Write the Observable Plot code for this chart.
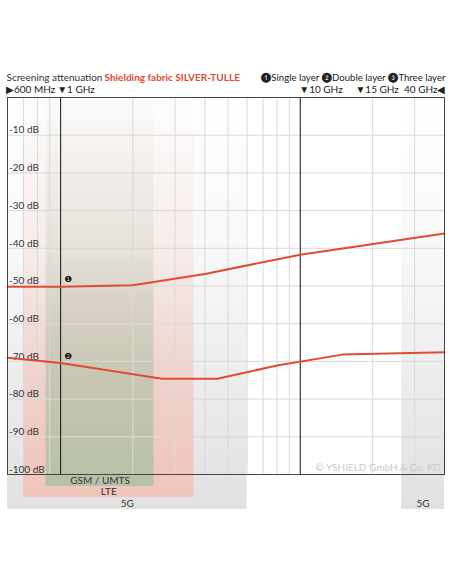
<!DOCTYPE html>
<html>
<head>
<meta charset="utf-8">
<script src="https://cdn.jsdelivr.net/npm/d3@7"></script>
<script src="https://cdn.jsdelivr.net/npm/@observablehq/plot@0.6"></script>
<style>
  html, body { margin: 0; padding: 0; background: #fff; }
  svg { display: block; }
</style>
</head>
<body>
<div id="chart"></div>
<script>
// ---- data ----
const singleFreq = [0.6e9, 1e9, 2e9, 4e9, 10e9, 40e9];
const singleDb   = [-50.2, -50.2, -49.8, -46.8, -41.7, -36.1];
const doubleFreq = [0.6e9, 1e9, 2.65e9, 4.5e9, 8e9, 15e9, 40e9];
const doubleDb   = [-69.0, -70.4, -74.6, -74.6, -71.1, -68.2, -67.6];

const gridFreqs  = [0.7e9, 0.8e9, 0.9e9, 2e9, 3e9, 4e9, 5e9, 6e9, 7e9, 8e9, 9e9, 20e9, 30e9];
const majorFreqs = [1e9, 10e9];
const gridDb     = [-10, -20, -30, -40, -50, -60, -70, -80, -90];
const yTickDb    = [-10, -20, -30, -40, -50, -60, -70, -80, -90, -100];

const bandNames = ["5G", "5G", "LTE", "GSM / UMTS"];
const bandFrom  = [0.6e9, 26.5e9, 0.7e9, 0.87e9];
const bandTo    = [6e9, 40e9, 3.6e9, 2.45e9];

const freqLabels   = ["▶600 MHz", "▼1 GHz", "▼10 GHz", "▼15 GHz", "40 GHz◀"];
const freqLabelPos = [0.6e9, 1e9, 10e9, 15e9, 40e9];

const titleText  = "Screening attenuation ";
const titleBold  = "Shielding fabric SILVER-TULLE";
const legendText = "❶Single layer ❷Double layer ❸Three layer";
const copyright  = "© YSHIELD GmbH & Co. KG";
const markerText = ["❶", "❷"];

// ---- tables ----
const single = singleFreq.map((f, i) => ({f, db: singleDb[i]}));
const dbl = doubleFreq.map((f, i) => ({f, db: doubleDb[i]}));
const bands = bandNames.map((name, i) => ({name, f1: bandFrom[i], f2: bandTo[i]}));
const markers = markerText.map((t, i) => ({t, f: 1e9, db: i === 0 ? single[1].db : dbl[1].db}));

// styles per band (index-aligned)
const bandStyle = [
  {id: "gGray", ext: 35},
  {id: "gGray", ext: 35},
  {id: "gPink", ext: 23},
  {id: "gGreen", ext: 12}
];
const gradColors = [["gGray", "#e1e1e1"], ["gPink", "#f1c5bc"], ["gGreen", "#b6c1a8"]];

const RED = "#e14b34";
const FONT = "Lato, 'Open Sans', sans-serif";

const marks = [];
// bands
bands.forEach((b, i) => {
  const s = bandStyle[i];
  marks.push(Plot.rect([b], {
    x1: "f1", x2: "f2", y1: () => -100, y2: () => 0,
    fill: `url(#${s.id})`, insetBottom: -s.ext
  }));
  marks.push(Plot.text([b], {
    x: d => Math.sqrt(d.f1 * d.f2), y: () => -100, text: "name", lineAnchor: "middle",
    dy: s.ext - 5.5, fill: "#333", fontSize: 10, fontFamily: FONT
  }));
});
// grid
marks.push(Plot.ruleX(gridFreqs, {x: d => d, stroke: "#d9d9d9", strokeWidth: 1}));
marks.push(Plot.ruleY(gridDb, {y: d => d, stroke: "#d9d9d9", strokeWidth: 1}));
marks.push(Plot.ruleX(majorFreqs, {x: d => d, stroke: "#111", strokeWidth: 1}));
// y labels
marks.push(Plot.text(yTickDb, {
  x: () => 0.6e9, y: d => d, text: d => `${d} dB`, textAnchor: "start", lineAnchor: "middle",
  dx: 1.5, dy: -5, fill: "#333", fontSize: 10, fontFamily: FONT
}));
// copyright
marks.push(Plot.text([copyright], {
  frameAnchor: "bottom-right", text: d => d, lineAnchor: "middle", dx: -4, dy: -7,
  fill: "#c8c8c8", fontSize: 10, fontFamily: FONT
}));
// lines
marks.push(Plot.line(single, {x: "f", y: "db", stroke: RED, strokeWidth: 2}));
marks.push(Plot.line(dbl, {x: "f", y: "db", stroke: RED, strokeWidth: 2}));
// markers
marks.push(Plot.text(markers, {
  x: "f", y: "db", text: "t", lineAnchor: "middle",
  dx: 7.5, dy: -7, fill: "#111", fontSize: 8.5, fontFamily: "DejaVu Sans"
}));
// frame
marks.push(Plot.frame({stroke: "#444", strokeWidth: 1}));
// header row 1
marks.push(Plot.text([titleText], {
  frameAnchor: "top-left", text: d => d, textAnchor: "start", lineAnchor: "middle", dy: -20, dx: -1,
  fill: "#333", fontSize: 10, fontFamily: FONT
}));
marks.push(Plot.text([titleBold], {
  frameAnchor: "top-left", text: d => d, textAnchor: "start", lineAnchor: "middle", dy: -20, dx: 97,
  fill: RED, fontSize: 10, fontWeight: "bold", fontFamily: FONT
}));
marks.push(Plot.text([legendText], {
  frameAnchor: "top-right", text: d => d, textAnchor: "end", lineAnchor: "middle", dy: -20, dx: 1,
  fill: "#222", fontSize: 9.6, fontFamily: FONT
}));
// header row 2 (frequency labels)
const anchors = ["start", "start", "start", "start", "end"];
const dxs = [-1.5, -3.5, -1, 13, 1];
freqLabels.forEach((t, i) => {
  marks.push(Plot.text([t], {
    x: () => freqLabelPos[i], y: () => 0, text: d => d, textAnchor: anchors[i], lineAnchor: "middle",
    dx: dxs[i], dy: -8, fill: "#222", fontSize: 10, fontFamily: FONT
  }));
});

const svg = Plot.plot({
  width: 452, height: 584,
  marginTop: 97, marginLeft: 7, marginRight: 8, marginBottom: 110,
  x: {type: "log", domain: [0.6e9, 40e9], axis: null},
  y: {domain: [-100, 0], axis: null},
  style: {background: "#fff", fontFamily: FONT, overflow: "visible"},
  marks
});

// gradients
const defs = d3.select(svg).insert("defs", ":first-child");
gradColors.forEach(([id, c]) => {
  const g = defs.append("linearGradient").attr("id", id)
    .attr("x1", 0).attr("y1", 0).attr("x2", 0).attr("y2", 1);
  [[0, 0.02], [0.4, 0.25], [0.75, 0.72], [1, 1]].forEach(([o, a]) =>
    g.append("stop").attr("offset", o).attr("stop-color", c).attr("stop-opacity", a));
});

document.getElementById("chart").appendChild(svg);
</script>
</body>
</html>
